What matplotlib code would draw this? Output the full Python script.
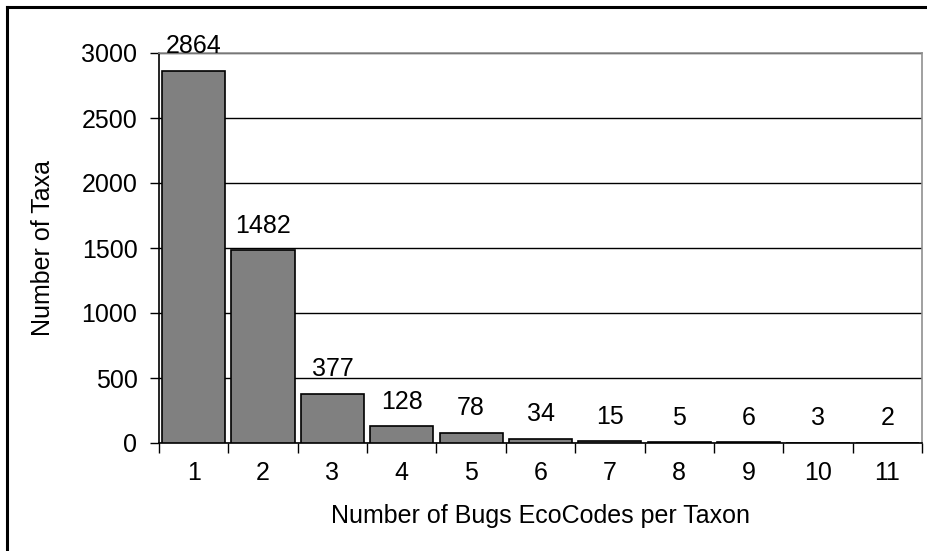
import matplotlib
matplotlib.use("Agg")
import matplotlib.pyplot as plt
from matplotlib.lines import Line2D

categories = ["1", "2", "3", "4", "5", "6", "7", "8", "9", "10", "11"]
counts = [2864, 1482, 377, 128, 78, 34, 15, 5, 6, 3, 2]
y_ticks = [0, 500, 1000, 1500, 2000, 2500, 3000]

plt.rcParams['font.family'] = ['Liberation Sans', 'DejaVu Sans']
FS = 18

W, H = 928, 551
fig = plt.figure(figsize=(W / 100, H / 100), dpi=100)
ax = fig.add_axes([159 / W, 1 - 443 / H, (922 - 159) / W, (443 - 53) / H])

x = list(range(len(categories)))
ax.bar(x, counts, width=0.91, color="#808080", edgecolor="black", linewidth=1.2, zorder=3)

for xi, v in zip(x, counts):
    ax.annotate(str(v), (xi, v), xytext=(0, 9), textcoords="offset points",
                ha="center", va="bottom", fontsize=FS, annotation_clip=False)

ax.set_xlim(-0.5, len(categories) - 0.5)
ax.set_ylim(0, 3000)
ax.set_yticks(y_ticks)
ax.tick_params(axis="y", labelsize=FS, direction="out", length=6.5, width=1, pad=9)
ax.yaxis.grid(True, color="black", linewidth=1, zorder=0)
ax.set_axisbelow(True)

# category labels centered, ticks at category boundaries
ax.set_xticks(x)
ax.set_xticklabels(categories, fontsize=FS)
ax.tick_params(axis="x", which="major", length=0, pad=13)
ax.set_xticks([i - 0.5 for i in range(len(categories) + 1)], minor=True)
ax.tick_params(axis="x", which="minor", direction="out", length=7, width=1)

ax.spines["left"].set_color("black")
ax.spines["bottom"].set_color("black")
ax.spines["top"].set_color("#909090")
ax.spines["right"].set_color("#909090")
for s in ax.spines.values():
    s.set_linewidth(1.2)

ax.set_ylabel("Number of Taxa", fontsize=FS, labelpad=19)
ax.set_xlabel("Number of Bugs EcoCodes per Taxon", fontsize=FS, labelpad=14)

# outer frame (left and top edges)
fig.add_artist(Line2D([7 / W, 7 / W], [0, 1 - 7 / H], color="black", linewidth=2.2,
                      transform=fig.transFigure))
fig.add_artist(Line2D([7 / W, 1], [1 - 7 / H, 1 - 7 / H], color="black", linewidth=2.2,
                      transform=fig.transFigure))

fig.savefig("out.png", dpi=100, facecolor="white")
